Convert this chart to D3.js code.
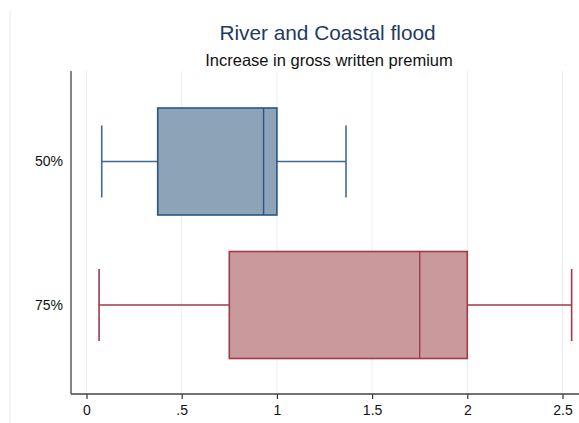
<!DOCTYPE html>
<html>
<head>
<meta charset="utf-8">
<script src="https://cdn.jsdelivr.net/npm/d3@7"></script>
<style>
  html, body { margin: 0; padding: 0; background: #fff; }
  svg { display: block; font-family: "Liberation Sans", Arial, sans-serif; }
</style>
</head>
<body>
<svg id="chart" width="579" height="423"></svg>
<script>
// ---- data ----
const categories = ["50%", "75%"];
const lowerWhisker = [0.08, 0.066];
const q1 = [0.374, 0.75];
const median = [0.93, 1.75];
const q3 = [1.0, 2.0];
const upperWhisker = [1.363, 2.548];
const xTickValues = [0, 0.5, 1, 1.5, 2, 2.5];
const xTickLabels = ["0", ".5", "1", "1.5", "2", "2.5"];
const title = "River and Coastal flood";
const subtitle = "Increase in gross written premium";

// ---- styles ----
const fills = ["#8ca3b8", "#c9999c"];
const strokes = ["#2b5582", "#a23a47"];
const whiskerColors = ["#3f6a96", "#a23a47"];

const W = 579, H = 423;
const plot = { left: 71, top: 71, bottom: 394 };

const svg = d3.select("#chart");

const x = d3.scaleLinear().domain([0, 2.5]).range([86.5, 562.5]);
const y = d3.scalePoint().domain(categories).range([161.5, 305]);
const boxH = 107;
const capH = 72;

// outer faint frame line
svg.append("line")
  .attr("x1", 10).attr("x2", 10).attr("y1", 10).attr("y2", H)
  .attr("stroke", "#e4ecef").attr("stroke-width", 1);

// gridlines
svg.append("g").selectAll("line").data(xTickValues).join("line")
  .attr("x1", d => x(d)).attr("x2", d => x(d))
  .attr("y1", plot.top).attr("y2", plot.bottom)
  .attr("stroke", "#e6eff1").attr("stroke-width", 1);

// titles
svg.append("text").attr("x", 327.5).attr("y", 40)
  .attr("text-anchor", "middle").attr("font-size", 20.8)
  .attr("fill", "#1f3a64").text(title);
svg.append("text").attr("x", 329).attr("y", 66)
  .attr("text-anchor", "middle").attr("font-size", 16.5)
  .attr("fill", "#111").text(subtitle);

// boxes
const idx = d3.range(categories.length);
const g = svg.append("g");
idx.forEach(i => {
  const cy = y(categories[i]);
  const gi = g.append("g");
  // whiskers
  gi.append("line").attr("x1", x(lowerWhisker[i])).attr("x2", x(q1[i]))
    .attr("y1", cy).attr("y2", cy).attr("stroke", whiskerColors[i]).attr("stroke-width", 1.4);
  gi.append("line").attr("x1", x(q3[i])).attr("x2", x(upperWhisker[i]))
    .attr("y1", cy).attr("y2", cy).attr("stroke", whiskerColors[i]).attr("stroke-width", 1.4);
  [lowerWhisker[i], upperWhisker[i]].forEach(v => {
    gi.append("line").attr("x1", x(v)).attr("x2", x(v))
      .attr("y1", cy - capH / 2).attr("y2", cy + capH / 2)
      .attr("stroke", whiskerColors[i]).attr("stroke-width", 1.6);
  });
  // box
  gi.append("rect").attr("x", x(q1[i])).attr("y", cy - boxH / 2)
    .attr("width", x(q3[i]) - x(q1[i])).attr("height", boxH)
    .attr("fill", fills[i]).attr("stroke", strokes[i]).attr("stroke-width", 1.6);
  // median
  gi.append("line").attr("x1", x(median[i])).attr("x2", x(median[i]))
    .attr("y1", cy - boxH / 2).attr("y2", cy + boxH / 2)
    .attr("stroke", strokes[i]).attr("stroke-width", 1.4);
});

// x axis
const xAxis = d3.axisBottom(x).tickValues(xTickValues)
  .tickFormat((d, i) => xTickLabels[i]).tickSize(5).tickPadding(6).tickSizeOuter(0);
const xg = svg.append("g").attr("transform", `translate(0,${plot.bottom})`).call(xAxis);
xg.select(".domain").remove();
xg.selectAll(".tick line").attr("stroke", "#333").attr("stroke-width", 1.2);
xg.selectAll(".tick text").attr("font-size", 14).attr("fill", "#111")
  .attr("font-family", "Liberation Sans, Arial, sans-serif");
svg.append("line").attr("x1", plot.left).attr("x2", W)
  .attr("y1", plot.bottom).attr("y2", plot.bottom)
  .attr("stroke", "#444").attr("stroke-width", 1.3);

// y axis
const yAxis = d3.axisLeft(y).tickSize(0).tickPadding(8);
const yg = svg.append("g").attr("transform", `translate(${plot.left},0)`).call(yAxis);
yg.select(".domain").remove();
yg.selectAll(".tick text").attr("font-size", 14).attr("fill", "#111")
  .attr("font-family", "Liberation Sans, Arial, sans-serif");
svg.append("line").attr("x1", plot.left).attr("x2", plot.left)
  .attr("y1", plot.top).attr("y2", plot.bottom)
  .attr("stroke", "#444").attr("stroke-width", 1.3);
</script>
</body>
</html>
